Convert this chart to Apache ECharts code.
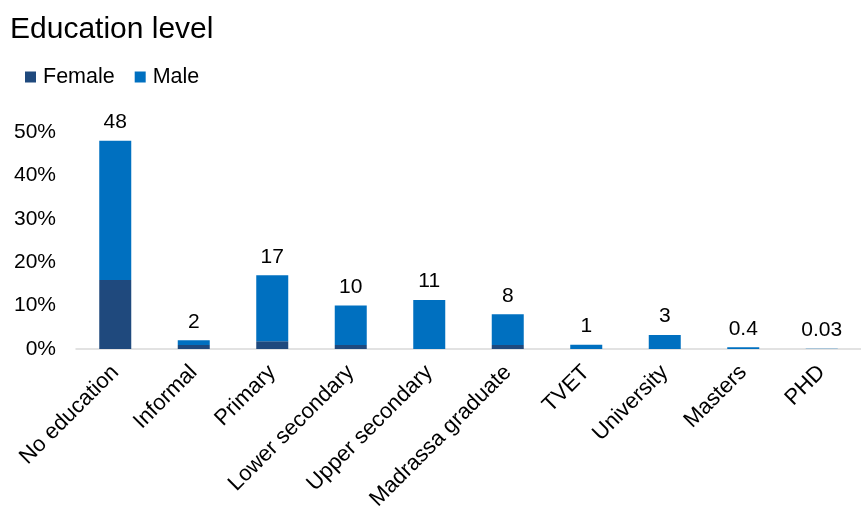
<!DOCTYPE html>
<html>
<head>
<meta charset="utf-8">
<script src="https://cdn.jsdelivr.net/npm/echarts@6/dist/echarts.min.js"></script>
<style>
  html, body { margin: 0; padding: 0; background: #fff; }
  #chart { width: 861px; height: 511px; }
</style>
</head>
<body>
<div id="chart"></div>
<script>
const categories = ['No education', 'Informal', 'Primary', 'Lower secondary', 'Upper secondary',
  'Madrassa graduate', 'TVET', 'University', 'Masters', 'PHD'];
const femaleValues = [15.9, 0.9, 1.8, 0.9, 0, 0.9, 0, 0, 0, 0];
const maleValues = [32.1, 1.1, 15.2, 9.1, 11.3, 7.1, 1, 3.2, 0.4, 0.03];
const totalLabels = ['48', '2', '17', '10', '11', '8', '1', '3', '0.4', '0.03'];
const yTicks = [0, 10, 20, 30, 40, 50];

const font = 'Liberation Sans, Arial, sans-serif';
const chart = echarts.init(document.getElementById('chart'));

chart.setOption({
  animation: false,
  textStyle: { fontFamily: font },
  title: {
    text: 'Education level',
    left: 5,
    top: 10,
    textStyle: { fontFamily: font, fontSize: 30, fontWeight: 'normal', color: '#000' }
  },
  legend: {
    data: ['Female', 'Male'],
    left: 20,
    top: 61,
    icon: 'rect',
    itemWidth: 11,
    itemHeight: 11,
    itemGap: 20,
    textStyle: { fontFamily: font, fontSize: 21.5, color: '#000', padding: [0, 0, 0, 2] }
  },
  grid: { left: 76, right: 0, top: 132, bottom: 162, outerBoundsMode: 'none' },
  xAxis: {
    type: 'category',
    data: categories,
    axisLine: { lineStyle: { color: '#d9d9d9', width: 1.5 } },
    axisTick: { show: false },
    axisLabel: {
      rotate: 45,
      interval: 0,
      margin: 20,
      color: '#000',
      fontSize: 22,
      fontFamily: font
    }
  },
  yAxis: {
    type: 'value',
    min: yTicks[0],
    max: yTicks[yTicks.length - 1],
    interval: 10,
    splitLine: { show: false },
    axisLine: { show: false },
    axisTick: { show: false },
    axisLabel: {
      formatter: '{value}%',
      color: '#000',
      fontSize: 21,
      margin: 20,
      fontFamily: font
    }
  },
  series: [
    {
      name: 'Female',
      type: 'bar',
      stack: 'total',
      data: femaleValues,
      barWidth: 32,
      itemStyle: { color: '#1F497D' }
    },
    {
      name: 'Male',
      type: 'bar',
      stack: 'total',
      data: maleValues,
      barWidth: 32,
      itemStyle: { color: '#0070C0' },
      label: {
        show: true,
        position: 'top',
        distance: 8,
        color: '#000',
        fontSize: 21,
        fontFamily: font,
        formatter: p => totalLabels[p.dataIndex]
      }
    }
  ]
});
</script>
</body>
</html>
